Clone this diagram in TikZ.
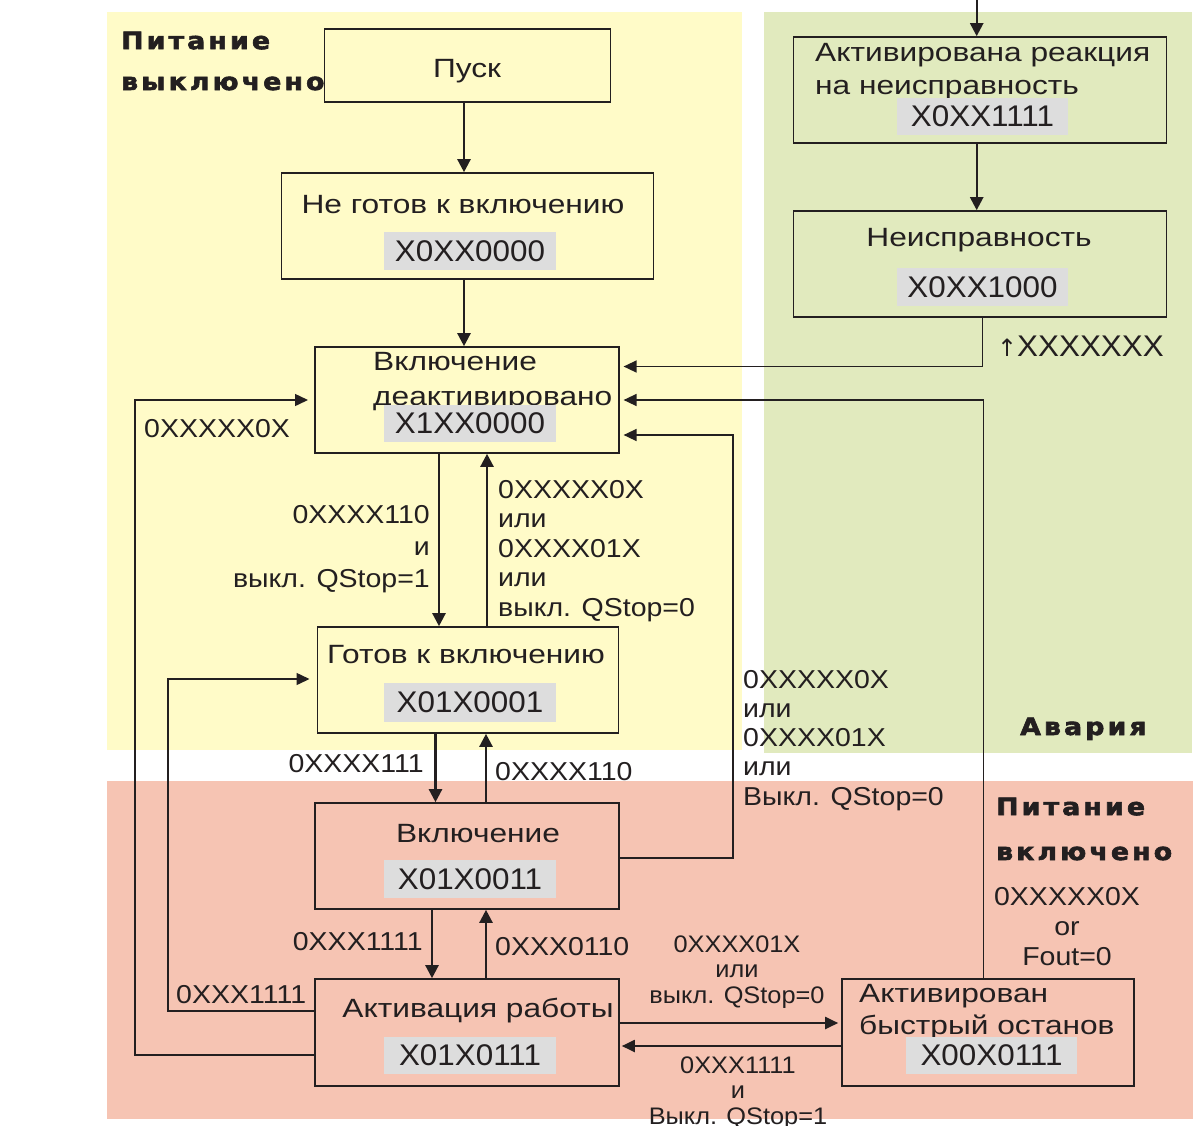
\documentclass[tikz,border=0pt]{standalone}
\usepackage{fontspec}
\setmainfont{Liberation Sans}
\newfontfamily\regfont[LetterSpace=13,FakeStretch=1.12,BoldFeatures={FakeBold=2.5}]{DejaVu Sans}
\newfontfamily\ttlfont[FakeStretch=1.2]{Liberation Sans}
\newfontfamily\lblfont[FakeStretch=1.1]{Liberation Sans}
\newfontfamily\codefont[FakeStretch=1.05]{Liberation Sans}
\newfontfamily\slblfont[FakeStretch=1.06]{Liberation Sans}
\newfontfamily\symfont{DejaVu Sans}
\usetikzlibrary{arrows.meta}
\definecolor{yel}{RGB}{255,251,200}
\definecolor{grn}{RGB}{225,234,190}
\definecolor{pnk}{RGB}{246,196,179}
\definecolor{codegray}{RGB}{221,221,221}
\definecolor{ink}{RGB}{35,31,32}
\tikzset{
  stbox/.style={draw=ink, line width=1.6bp, inner sep=0},
  code/.style={fill=codegray, inner sep=0, text=ink, font=\codefont\fontsize{30}{36}\selectfont},
  ttl/.style={inner sep=0, text=ink, font=\ttlfont\fontsize{26.5}{33}\selectfont},
  lbl/.style={inner sep=0, text=ink, font=\lblfont\fontsize{26}{29.5}\selectfont},
  slbl/.style={inner sep=0, text=ink, font=\slblfont\fontsize{24}{25.3}\selectfont},
  region/.style={inner sep=0, text=ink, font=\regfont\bfseries\fontsize{24}{41}\selectfont},
  arr/.style={draw=ink, line width=2.4bp, -{Triangle[length=13bp,width=13bp]}},
  elb/.style={draw=ink, line width=1.5bp, -{Triangle[length=13bp,width=12bp]}},
  hor/.style={draw=ink, line width=2bp, -{Triangle[length=13bp,width=12bp]}}
}
\begin{document}
\begin{tikzpicture}[x=1bp,y=-1bp]
\useasboundingbox (0,0) rectangle (1194,1126);
% regions
\fill[yel] (107,12) rectangle (742,750);
\fill[grn] (764,12) rectangle (1192,753);
\fill[pnk] (107,781) rectangle (1193,1119);

% region labels (base anchor = last line)
\node[region, anchor=base west, align=left] (rOff) at (121,90) {Питание\\выключено};
\node[region, anchor=base west] (rFault) at (1020,735) {Авария};
\node[region, anchor=base west, align=left, font=\regfont\bfseries\fontsize{24}{45}\selectfont] (rOn) at (996,860) {Питание\\включено};

% state boxes
\node[stbox, minimum width=286bp, minimum height=73bp] (pusk) at (467.3,65.5) {};
\node[stbox, minimum width=372bp, minimum height=106bp] (notready) at (467.3,226) {};
\node[stbox, minimum width=304bp, minimum height=106bp] (disabled) at (466.8,400) {};
\node[stbox, minimum width=301bp, minimum height=106bp] (ready) at (467.8,680) {};
\node[stbox, minimum width=304bp, minimum height=106bp] (oper) at (467,856) {};
\node[stbox, minimum width=304bp, minimum height=107bp] (enabled) at (467,1032.5) {};
\node[stbox, minimum width=292bp, minimum height=107bp] (qstop) at (988,1032.5) {};
\node[stbox, minimum width=373bp, minimum height=106bp] (faultreact) at (979.8,90) {};
\node[stbox, minimum width=373bp, minimum height=106bp] (fault) at (979.8,264) {};

% state titles
\node[ttl, anchor=base] (tPusk) at (467,77.5) {Пуск};
\node[ttl, anchor=base] (tNotready) at (463,213) {Не готов к включению};
\node[ttl, anchor=base west, align=left, font=\ttlfont\fontsize{26.5}{35}\selectfont] (tDisabled) at (373,405) {Включение\\деактивировано};
\node[ttl, anchor=base] (tReady) at (466,663) {Готов к включению};
\node[ttl, anchor=base] (tOper) at (478,842) {Включение};
\node[ttl, anchor=base] (tEnabled) at (478,1017) {Активация работы};
\node[ttl, anchor=base west, align=left, font=\ttlfont\fontsize{26.5}{32}\selectfont] (tQstop) at (859,1034) {Активирован\\быстрый останов};
\node[ttl, anchor=base west, align=left] (tFaultreact) at (815,94) {Активирована реакция\\на неисправность};
\node[ttl, anchor=base] (tFault) at (979,246) {Неисправность};

% codes
\node[code, minimum width=172bp, minimum height=38bp] (cNotready) at (470,251) {X0XX0000};
\node[code, minimum width=172bp, minimum height=37bp] (cDisabled) at (470,423.5) {X1XX0000};
\node[code, minimum width=172bp, minimum height=39bp] (cReady) at (470,702.5) {X01X0001};
\node[code, minimum width=172bp, minimum height=38bp] (cOper) at (470,879) {X01X0011};
\node[code, minimum width=172bp, minimum height=37bp] (cEnabled) at (470,1055.5) {X01X0111};
\node[code, minimum width=171bp, minimum height=37bp] (cQstop) at (991.5,1055.5) {X00X0111};
\node[code, minimum width=171bp, minimum height=37bp] (cFaultreact) at (982.5,116.5) {X0XX1111};
\node[code, minimum width=171bp, minimum height=38bp] (cFault) at (982.5,287) {X0XX1000};

% connectors
\coordinate (topin) at (976.7,0);
\draw[arr] (pusk.south -| 464,0) -- (notready.north -| 464,0);
\draw[arr] (notready.south -| 464,0) -- (disabled.north -| 464,0);
\draw[arr] (topin) -- (faultreact.north -| 976.7,0);
\draw[arr] (faultreact.south -| 976.7,0) -- (fault.north -| 976.7,0);
\draw[elb, shorten >=4bp] (fault.south -| 982.5,0) |- (disabled.east |- 0,366.5);
\draw[elb, shorten >=4bp] (qstop.north -| 983.5,0) |- (disabled.east |- 0,400);
\draw[elb, shorten >=4bp] (oper.east |- 0,858) -| (733,435) -- (disabled.east |- 0,435);
\draw[arr] (disabled.south -| 439,0) -- (ready.north -| 439,0);
\draw[arr] (ready.north -| 487,0) -- (disabled.south -| 487,0);
\draw[arr] (ready.south -| 435.5,0) -- (oper.north -| 435.5,0);
\draw[arr] (oper.north -| 486,0) -- (ready.south -| 486,0);
\draw[arr] (oper.south -| 432,0) -- (enabled.north -| 432,0);
\draw[arr] (enabled.north -| 486,0) -- (oper.south -| 486,0);
\draw[elb, shorten >=7bp] (enabled.west |- 0,1011) -| (168,679) -- (ready.west |- 0,679);
\draw[elb, shorten >=6bp] (enabled.west |- 0,1055) -| (135,400) -- (disabled.west |- 0,400);
\draw[hor, shorten >=3bp] (enabled.east |- 0,1023) -- (qstop.west |- 0,1023);
\draw[hor, shorten >=2bp] (qstop.west |- 0,1046) -- (enabled.east |- 0,1046);

% labels (base anchor = last line)
\node[lbl, anchor=base west, font=\codefont\fontsize{30}{30}\selectfont] (lFault) at (997,356) {{\symfont\fontsize{24}{24}\selectfont ↑}XXXXXXX};
\node[lbl, anchor=base west] (lEnDis) at (144,437) {0XXXXX0X};
\node[lbl, anchor=base east, align=right, font=\lblfont\fontsize{26}{32}\selectfont] (lDisReady) at (430,587) {0XXXX110\\и\\выкл. QStop=1};
\node[lbl, anchor=base west, align=left] (lReadyDis) at (498,616) {0XXXXX0X\\или\\0XXXX01X\\или\\выкл. QStop=0};
\node[lbl, anchor=base east] (lReadyOper) at (424,772) {0XXXX111};
\node[lbl, anchor=base west] (lOperReady) at (495,780) {0XXXX110};
\node[lbl, anchor=base east] (lOperEn) at (423,950) {0XXX1111};
\node[lbl, anchor=base west] (lEnOper) at (495,955) {0XXX0110};
\node[lbl, anchor=base west] (lEnReady) at (176,1003) {0XXX1111};
\node[lbl, anchor=base west, align=left, font=\lblfont\fontsize{26}{29.3}\selectfont] (lOperDis) at (743,805) {0XXXXX0X\\или\\0XXXX01X\\или\\Выкл. QStop=0};
\node[lbl, anchor=base, align=center, font=\lblfont\fontsize{26}{30}\selectfont] (lQsDis) at (1067,965) {0XXXXX0X\\or\\Fout=0};
\node[slbl, anchor=base, align=center] (lEnQs) at (737,1003) {0XXXX01X\\или\\выкл. QStop=0};
\node[slbl, anchor=base, align=center, font=\slblfont\fontsize{24}{25.5}\selectfont] (lQsEn) at (738,1124) {0XXX1111\\и\\Выкл. QStop=1};
\end{tikzpicture}
\end{document}
